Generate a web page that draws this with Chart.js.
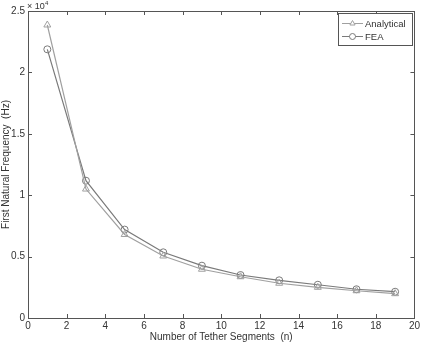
<!DOCTYPE html>
<html>
<head>
<meta charset="utf-8">
<script src="https://cdn.jsdelivr.net/npm/chart.js@4/dist/chart.umd.min.js"></script>
<style>
  html, body { margin: 0; padding: 0; background: #fff; }
  #wrap { width: 422px; height: 343px; }
</style>
</head>
<body>
<div id="wrap"><canvas id="grafico"></canvas></div>
<script>
// dados (valores em x 10^4 Hz)
const segmentos = [1, 3, 5, 7, 9, 11, 13, 15, 17, 19];
const analitico = [2.386, 1.05, 0.68, 0.505, 0.397, 0.336, 0.283, 0.25, 0.222, 0.198];
const fea = [2.188, 1.118, 0.72, 0.535, 0.426, 0.35, 0.307, 0.271, 0.234, 0.214];
const ticksX = [0, 2, 4, 6, 8, 10, 12, 14, 16, 18, 20];
const ticksY = [0, 0.5, 1, 1.5, 2, 2.5];

const fonte = { family: 'Liberation Sans, Arial, sans-serif', size: 10 };

// moldura, ticks para dentro, expoente e legenda estilo MATLAB
const molduraPlugin = {
    id: 'moldura',
    afterDraw(chart) {
        const ctx = chart.ctx;
        const a = chart.chartArea;
        const sx = chart.scales.x, sy = chart.scales.y;
        ctx.save();
        ctx.strokeStyle = '#555';
        ctx.lineWidth = 1;
        ctx.strokeRect(Math.round(a.left) + 0.5, Math.round(a.top) + 0.5,
            Math.round(a.right - a.left), Math.round(a.bottom - a.top));
        ctx.beginPath();
        ticksX.forEach(v => {
            const px = Math.round(sx.getPixelForValue(v)) + 0.5;
            ctx.moveTo(px, a.bottom); ctx.lineTo(px, a.bottom - 4);
            ctx.moveTo(px, a.top); ctx.lineTo(px, a.top + 4);
        });
        ticksY.forEach(v => {
            const py = Math.round(sy.getPixelForValue(v)) + 0.5;
            ctx.moveTo(a.left, py); ctx.lineTo(a.left + 4, py);
            ctx.moveTo(a.right, py); ctx.lineTo(a.right - 4, py);
        });
        ctx.stroke();

        // expoente
        ctx.fillStyle = '#333';
        ctx.font = '9px Liberation Sans, Arial, sans-serif';
        ctx.textBaseline = 'alphabetic';
        ctx.fillText('\u00d7 10', a.left - 1, a.top - 2);
        ctx.font = '6px Liberation Sans, Arial, sans-serif';
        ctx.fillText('4', a.left + 17, a.top - 6);

        // legenda
        const lx = 338, ly = 13, lw = 74, lh = 32;
        ctx.fillStyle = '#fff';
        ctx.fillRect(lx, ly, lw, lh);
        ctx.strokeStyle = '#555';
        ctx.strokeRect(lx + 0.5, ly + 0.5, lw, lh);
        chart.data.datasets.forEach((ds, i) => {
            const y = ly + 10 + i * 13;
            ctx.strokeStyle = ds.borderColor;
            ctx.beginPath();
            ctx.moveTo(lx + 4, y + 0.5); ctx.lineTo(lx + 25, y + 0.5);
            ctx.stroke();
            ctx.fillStyle = '#fff';
            Chart.helpers.drawPoint(ctx, {
                pointStyle: ds.pointStyle, radius: 3, borderWidth: 1
            }, lx + 14.5, y + 0.5);
            ctx.fillStyle = '#333';
            ctx.font = '9.5px Liberation Sans, Arial, sans-serif';
            ctx.textBaseline = 'middle';
            ctx.fillText(ds.label, lx + 27, y + 1);
        });
        ctx.restore();
    }
};

new Chart(document.getElementById('grafico').getContext('2d'), {
    type: 'line',
    data: {
        datasets: [{
            label: 'Analytical',
            data: segmentos.map((x, i) => ({ x: x, y: analitico[i] })),
            borderColor: '#a0a0a0',
            backgroundColor: 'rgba(0,0,0,0)',
            borderWidth: 1.2,
            pointStyle: 'triangle',
            pointRadius: 4,
            pointBorderWidth: 1,
            pointBorderColor: '#a0a0a0',
            pointBackgroundColor: 'rgba(0,0,0,0)',
            tension: 0
        }, {
            label: 'FEA',
            data: segmentos.map((x, i) => ({ x: x, y: fea[i] })),
            borderColor: '#7a7a7a',
            backgroundColor: 'rgba(0,0,0,0)',
            borderWidth: 1.2,
            pointStyle: 'circle',
            pointRadius: 3.5,
            pointBorderWidth: 1,
            pointBorderColor: '#7a7a7a',
            pointBackgroundColor: 'rgba(0,0,0,0)',
            tension: 0
        }]
    },
    options: {
        responsive: true,
        maintainAspectRatio: false,
        animation: false,
        layout: { padding: { top: 11, right: 6, left: 0, bottom: 0 } },
        plugins: {
            legend: { display: false },
            tooltip: { enabled: false }
        },
        scales: {
            x: {
                type: 'linear',
                min: 0, max: 20,
                afterBuildTicks: s => { s.ticks = ticksX.map(v => ({ value: v })); },
                afterFit: s => { s.height = 25; },
                grid: { display: false, drawTicks: false },
                border: { display: false },
                ticks: { color: '#333', font: fonte, padding: 2, maxRotation: 0 },
                title: {
                    display: true, text: 'Number of Tether Segments  (n)',
                    color: '#333', font: fonte, padding: { top: 0, bottom: 0 }
                }
            },
            y: {
                type: 'linear',
                min: 0, max: 2.5,
                afterBuildTicks: s => { s.ticks = ticksY.map(v => ({ value: v })); },
                afterFit: s => { s.width = 28; },
                grid: { display: false, drawTicks: false },
                border: { display: false },
                ticks: { color: '#333', font: fonte, padding: 3, callback: v => String(v) },
                title: {
                    display: true, text: 'First Natural Frequency  (Hz)',
                    color: '#333', font: fonte, padding: { top: 0, bottom: 0 }
                }
            }
        }
    },
    plugins: [molduraPlugin]
});
</script>
</body>
</html>
